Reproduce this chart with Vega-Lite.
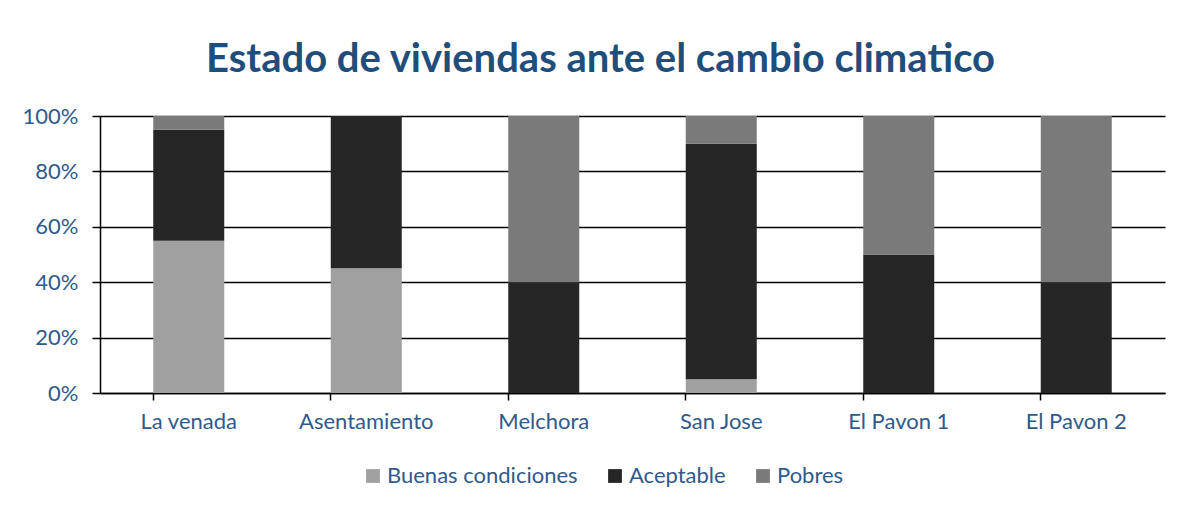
{
  "$schema": "https://vega.github.io/schema/vega-lite/v6.json",
  "width": 1065,
  "height": 277,
  "autosize": "none",
  "padding": {"left": 100, "top": 116, "right": 17, "bottom": 115},
  "background": "white",
  "config": {
    "font": "Lato",
    "view": {"stroke": null}
  },
  "title": {
    "text": "Estado de viviendas ante el cambio climatico",
    "font": "Lato",
    "fontSize": 40,
    "fontWeight": "bold",
    "color": "#1F4E7C",
    "anchor": "middle",
    "dx": -32,
    "offset": 25
  },
  "data": {
    "values": [
      {"lugar": "La venada", "estado": "Buenas condiciones", "orden": 1, "valor": 0.55},
      {"lugar": "La venada", "estado": "Aceptable", "orden": 2, "valor": 0.40},
      {"lugar": "La venada", "estado": "Pobres", "orden": 3, "valor": 0.05},
      {"lugar": "Asentamiento", "estado": "Buenas condiciones", "orden": 1, "valor": 0.45},
      {"lugar": "Asentamiento", "estado": "Aceptable", "orden": 2, "valor": 0.55},
      {"lugar": "Asentamiento", "estado": "Pobres", "orden": 3, "valor": 0.0},
      {"lugar": "Melchora", "estado": "Buenas condiciones", "orden": 1, "valor": 0.0},
      {"lugar": "Melchora", "estado": "Aceptable", "orden": 2, "valor": 0.40},
      {"lugar": "Melchora", "estado": "Pobres", "orden": 3, "valor": 0.60},
      {"lugar": "San Jose", "estado": "Buenas condiciones", "orden": 1, "valor": 0.05},
      {"lugar": "San Jose", "estado": "Aceptable", "orden": 2, "valor": 0.85},
      {"lugar": "San Jose", "estado": "Pobres", "orden": 3, "valor": 0.10},
      {"lugar": "El Pavon 1", "estado": "Buenas condiciones", "orden": 1, "valor": 0.0},
      {"lugar": "El Pavon 1", "estado": "Aceptable", "orden": 2, "valor": 0.50},
      {"lugar": "El Pavon 1", "estado": "Pobres", "orden": 3, "valor": 0.50},
      {"lugar": "El Pavon 2", "estado": "Buenas condiciones", "orden": 1, "valor": 0.0},
      {"lugar": "El Pavon 2", "estado": "Aceptable", "orden": 2, "valor": 0.40},
      {"lugar": "El Pavon 2", "estado": "Pobres", "orden": 3, "valor": 0.60}
    ]
  },
  "mark": {"type": "bar"},
  "encoding": {
    "x": {
      "field": "lugar",
      "type": "nominal",
      "sort": ["La venada", "Asentamiento", "Melchora", "San Jose", "El Pavon 1", "El Pavon 2"],
      "scale": {"paddingInner": 0.6, "paddingOuter": 0.3},
      "axis": {
        "title": null,
        "labelAngle": 0,
        "labelFont": "Lato",
        "labelFontSize": 22,
        "labelColor": "#2F5A8C",
        "labelPadding": 11,
        "domainColor": "#000000",
        "domainWidth": 1.5,
        "tickColor": "#000000",
        "tickWidth": 1.5,
        "tickSize": 7,
        "bandPosition": 0,
        "grid": false
      }
    },
    "y": {
      "field": "valor",
      "type": "quantitative",
      "stack": "zero",
      "scale": {"domain": [0, 1], "nice": false},
      "axis": {
        "title": null,
        "format": ".0%",
        "values": [0, 0.2, 0.4, 0.6, 0.8, 1],
        "labelFont": "Lato",
        "labelFontSize": 22,
        "labelColor": "#2F5A8C",
        "labelPadding": 14,
        "domainColor": "#000000",
        "domainWidth": 1.5,
        "tickColor": "#000000",
        "tickWidth": 1.5,
        "tickSize": 8,
        "grid": true,
        "gridColor": "#000000",
        "gridWidth": 1.5,
        "gridOpacity": 1
      }
    },
    "color": {
      "field": "estado",
      "type": "nominal",
      "sort": ["Buenas condiciones", "Aceptable", "Pobres"],
      "scale": {
        "domain": ["Buenas condiciones", "Aceptable", "Pobres"],
        "range": ["#a0a0a0", "#262626", "#7a7a7a"]
      },
      "legend": {
        "title": null,
        "orient": "none",
        "direction": "horizontal",
        "legendX": 262,
        "legendY": 349,
        "symbolType": "square",
        "symbolSize": 190,
        "symbolStrokeWidth": 0,
        "labelFont": "Lato",
        "labelFontSize": 22,
        "labelColor": "#2F5A8C",
        "labelOffset": 3,
        "labelLimit": 0,
        "columnPadding": 26
      }
    },
    "order": {"field": "orden", "type": "quantitative", "sort": "ascending"}
  }
}
